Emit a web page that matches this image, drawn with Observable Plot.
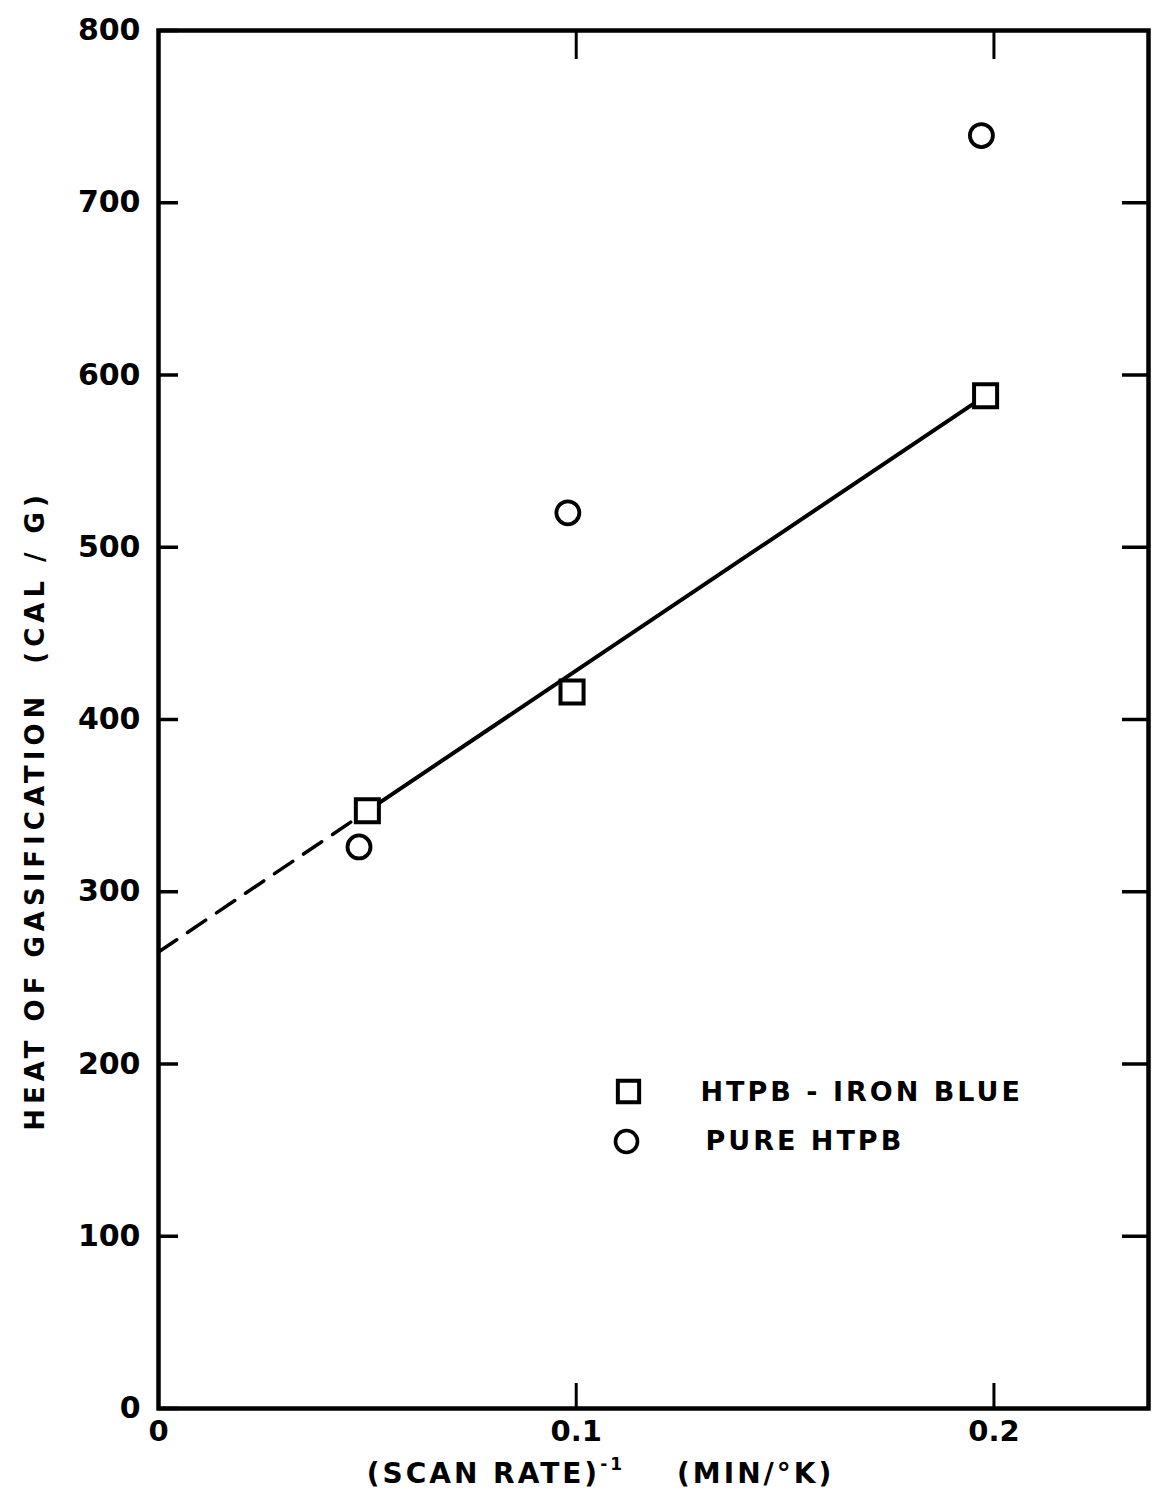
<!DOCTYPE html>
<html><head><meta charset="utf-8">
<script src="https://cdn.jsdelivr.net/npm/d3@7"></script>
<script src="https://cdn.jsdelivr.net/npm/@observablehq/plot@0.6"></script>
<style>
body{margin:0;background:#fff}
#chart svg text.spaced{letter-spacing:3px}
#chart svg text.yspaced{letter-spacing:5px}
</style>
</head><body><div id="chart"></div>
<script>
// ---- data ----
const ironBlueX = [0.050, 0.099, 0.198];
const ironBlueY = [347, 416, 588];
const pureX = [0.048, 0.098, 0.197];
const pureY = [326, 520, 739];
const fitSolidX = [0.050, 0.198];
const fitSolidY = [347, 588];
const fitDashX = [0, 0.047];
const fitDashY = [265, 342];
const yTicks = [0, 100, 200, 300, 400, 500, 600, 700, 800];
const xTicks = [0, 0.1, 0.2];
const xTickLabels = ["0", "0.1", "0.2"];
const seriesNames = ["HTPB - IRON BLUE", "PURE HTPB"];
const yLabel = "HEAT OF GASIFICATION  (CAL / G)";
const xLabelMain = "(SCAN RATE)";
const xLabelSup = "-1";
const xLabelUnit = "(MIN/\u00B0K)";
const xLabel = xLabelMain + xLabelSup + "    " + xLabelUnit;

const toPts = (xs, ys) => xs.map((x, i) => ({x, y: ys[i]}));
const ironBlue = toPts(ironBlueX, ironBlueY);
const pure = toPts(pureX, pureY);
const fitSolid = toPts(fitSolidX, fitSolidY);
const fitDash = toPts(fitDashX, fitDashY);

const W = 1152, H = 1498;
const chart = Plot.plot({
  width: W, height: H,
  marginLeft: 158, marginRight: 4, marginTop: 30, marginBottom: 90,
  style: {fontFamily: "DejaVu Sans", fontSize: "27px", fontWeight: "bold", background: "#fff", color: "#000", overflow: "visible"},
  x: {domain: [0, 0.237]},
  y: {domain: [0, 800]},
  marks: [
    Plot.axisY(yTicks, {anchor: "left", tickSize: -20, tickPadding: 38, strokeWidth: 3.5, fontSize: 30, fontWeight: "bold", label: null}),
    Plot.axisY(yTicks.slice(1, -1), {anchor: "right", tickSize: -27, tickFormat: () => "", strokeWidth: 3.5, label: null}),
    Plot.axisX(xTicks, {anchor: "bottom", tickSize: -25, tickPadding: 37, strokeWidth: 3, fontSize: 29, fontWeight: "bold",
      tickFormat: d => xTickLabels[xTicks.indexOf(d)], label: null}),
    Plot.axisX(xTicks.slice(1), {anchor: "top", tickSize: -28, tickFormat: () => "", strokeWidth: 3, label: null}),
    Plot.frame({stroke: "#000", strokeWidth: 4.5}),
    Plot.line(fitDash, {x: "x", y: "y", stroke: "#000", strokeWidth: 3.5, strokeDasharray: "22,13"}),
    Plot.line(fitSolid, {x: "x", y: "y", stroke: "#000", strokeWidth: 4}),
    Plot.dot(ironBlue, {x: "x", y: "y", symbol: "square", r: 13, stroke: "#000", strokeWidth: 4, fill: "#fff"}),
    Plot.dot(pure, {x: "x", y: "y", symbol: "circle", r: 11.5, stroke: "#000", strokeWidth: 3.8, fill: "#fff"}),
    // legend (inside frame)
    Plot.dot([seriesNames[0]], {frameAnchor: "top-left", dx: 470, dy: 1061, symbol: "square", r: 12, stroke: "#000", strokeWidth: 4, fill: "#fff"}),
    Plot.dot([seriesNames[1]], {frameAnchor: "top-left", dx: 468, dy: 1111, symbol: "circle", r: 11, stroke: "#000", strokeWidth: 3.6, fill: "#fff"}),
    Plot.text([seriesNames[0]], {frameAnchor: "top-left", dx: 542, dy: 1051, text: d => d, textAnchor: "start", fontSize: 27, fontWeight: "bold"}),
    Plot.text([seriesNames[1]], {frameAnchor: "top-left", dx: 547, dy: 1100, text: d => d, textAnchor: "start", fontSize: 27, fontWeight: "bold"}),
    // axis titles
    Plot.text([yLabel], {frameAnchor: "left", dx: -123, dy: 91, rotate: -90, textAnchor: "middle", text: d => d, fontSize: 26, fontWeight: "bold"}),
    Plot.text([xLabel], {frameAnchor: "bottom", dx: -53, dy: 74, textAnchor: "middle", text: d => d, fontSize: 28, fontWeight: "bold"})
  ]
});
document.getElementById("chart").appendChild(chart);
const sel = d3.select(chart).selectAll("text");
sel.filter(function() { return seriesNames.includes(this.textContent); }).classed("spaced", true);
sel.filter(function() { return this.textContent === yLabel; }).classed("yspaced", true);
sel.filter(function() { return this.textContent === xLabel; }).each(function() {
  const t = d3.select(this).classed("spaced", true).text("");
  t.append("tspan").text(xLabelMain);
  t.append("tspan").attr("dy", -13).attr("font-size", 17).text(xLabelSup);
  t.append("tspan").attr("dy", 13).attr("dx", 52).text(xLabelUnit);
});
</script>
</body></html>
